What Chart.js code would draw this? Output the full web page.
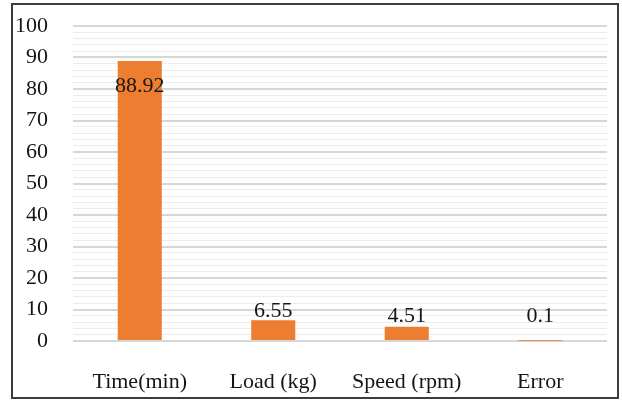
<!DOCTYPE html>
<html>
<head>
    <meta charset='utf-8'>
    <title>Bar chart</title>
    <script src="https://cdn.jsdelivr.net/npm/chart.js@4.4.0/dist/chart.umd.min.js"></script>
    <style>
        body { margin: 0; background: #fff; }
        #wrap { position: relative; width: 622px; height: 400px; }
        #frame {
            position: absolute; left: 11px; top: 3px; width: 608px; height: 396px;
            box-sizing: border-box; border: 2px solid #3c3c3c; pointer-events: none;
        }
    </style>
</head>
<body>
    <div id="wrap">
        <canvas id="myChart" width="622" height="400"></canvas>
        <div id="frame"></div>
    </div>
    <script>
        const categories = ['Time(min)', 'Load (kg)', 'Speed (rpm)', 'Error'];
        const values = [88.92, 6.55, 4.51, 0.1];
        const yMin = 0;
        const yMax = 100;
        const yStep = 2; // minor gridline every 2, labels every 10

        const serif = "'Liberation Serif', 'Times New Roman', serif";
        const textColor = '#151515';

        // value labels: inside the top of tall bars, above short ones
        const valueLabels = {
            id: 'valueLabels',
            afterDatasetsDraw(chart) {
                const c = chart.ctx;
                const meta = chart.getDatasetMeta(0);
                const base = chart.scales.y.getPixelForValue(0);
                c.save();
                c.font = '22px ' + serif;
                c.fillStyle = textColor;
                c.textAlign = 'center';
                c.textBaseline = 'middle';
                meta.data.forEach((bar, i) => {
                    let y;
                    if (base - bar.y > 40) {
                        y = bar.y + 25;
                    } else {
                        y = Math.min(bar.y - 9, base - 25);
                    }
                    c.fillText(String(values[i]), bar.x, y);
                });
                c.restore();
            }
        };

        const ctx = document.getElementById('myChart').getContext('2d');
        const myChart = new Chart(ctx, {
            type: 'bar',
            data: {
                labels: categories,
                datasets: [{
                    data: values,
                    backgroundColor: '#ed7d31',
                    borderWidth: 0,
                    categoryPercentage: 1,
                    barPercentage: 0.33
                }]
            },
            options: {
                responsive: false,
                animation: false,
                layout: {
                    padding: { left: 0, top: 26, right: 15, bottom: 0 }
                },
                plugins: {
                    legend: { display: false },
                    tooltip: { enabled: false }
                },
                scales: {
                    x: {
                        grid: { display: false },
                        border: { display: false },
                        ticks: {
                            font: { family: serif, size: 22 },
                            color: textColor,
                            padding: 20,
                            maxRotation: 0
                        },
                        afterFit(scale) {
                            scale.height = 59;
                            scale.paddingLeft = 0;
                            scale.paddingRight = 0;
                        }
                    },
                    y: {
                        min: yMin,
                        max: yMax,
                        border: { display: false },
                        grid: {
                            drawTicks: false,
                            color: c => (c.tick && c.tick.value % 10 === 0) ? '#d6d6d6' : '#ececec',
                            lineWidth: c => (c.tick && c.tick.value % 10 === 0) ? 2 : 1
                        },
                        ticks: {
                            stepSize: yStep,
                            autoSkip: false,
                            font: { family: serif, size: 22 },
                            color: textColor,
                            padding: 25,
                            callback: v => (v % 10 === 0 ? v : '')
                        },
                        afterFit(scale) {
                            scale.width = 73;
                            scale.paddingTop = 0;
                            scale.paddingBottom = 0;
                        }
                    }
                }
            },
            plugins: [valueLabels]
        });
    </script>
</body>
</html>
